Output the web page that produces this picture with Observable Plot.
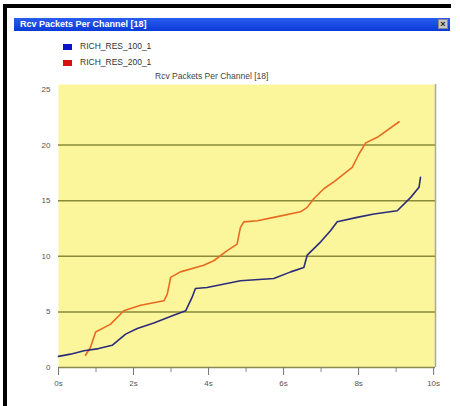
<!DOCTYPE html>
<html><head><meta charset="utf-8">
<script src="https://cdn.jsdelivr.net/npm/d3@7"></script>
<script src="https://cdn.jsdelivr.net/npm/@observablehq/plot@0.6"></script>
<style>
html,body{margin:0;padding:0;background:#fff;}
#root{position:relative;width:460px;height:406px;overflow:hidden;background:#fff;font-family:"Liberation Sans",Arial,sans-serif;}
#frame{position:absolute;left:3px;top:4px;width:444px;height:410px;border-top:4px solid #000;border-left:4px solid #000;}
#titlebar{position:absolute;left:14px;top:18px;width:436px;height:13px;background:linear-gradient(#2a5cf0,#0a3ad8);color:#fff;font-weight:bold;font-size:9px;line-height:13px;padding-left:6px;box-sizing:border-box;}
#close{position:absolute;right:2px;top:1px;width:10px;height:10px;background:#c8c8c8;border:1px solid #888;box-sizing:border-box;color:#222;font-size:9px;line-height:8px;text-align:center;font-weight:bold;}
.leg{position:absolute;left:63px;font-size:8.5px;color:#333;line-height:10px;}
.sw{display:inline-block;width:9px;height:6px;margin-right:8px;vertical-align:middle;}
#sub{position:absolute;left:155px;top:71px;font-size:8.5px;color:#444;}
#chart{position:absolute;left:0;top:80px;}
</style></head>
<body><div id="root">
<div id="frame"></div>
<div id="titlebar"><span id="ttl"></span><div id="close">×</div></div>
<div class="leg" style="top:41px"><span class="sw" style="background:#0a14c8"></span><span id="n0"></span></div>
<div class="leg" style="top:57px"><span class="sw" style="background:#d81010"></span><span id="n1"></span></div>
<div id="sub"></div>
<div id="chart"></div>
</div>
<script>
const titleText = "Rcv Packets Per Channel [18]";
const seriesNames = ["RICH_RES_100_1", "RICH_RES_200_1"];
const xTicks = [0, 2, 4, 6, 8, 10];
const xMinorTicks = [1, 3, 5, 7, 9];
const yGrid = [5, 10, 15, 20];
const yTicks = [0, 5, 10, 15, 20, 25];

const blueT = [0, 0.32, 0.68, 1.07, 1.43, 1.79, 2.1, 2.54, 3.07, 3.39, 3.56, 3.65, 3.96, 4.85, 5.74, 6.19, 6.54, 6.63, 6.99, 7.25, 7.43, 7.96, 8.41, 9.03, 9.39, 9.61, 9.65];
const blueV = [1.0, 1.2, 1.5, 1.7, 2.0, 3.0, 3.5, 4.0, 4.7, 5.1, 6.3, 7.1, 7.2, 7.8, 8.0, 8.6, 9.0, 10.1, 11.3, 12.3, 13.1, 13.5, 13.8, 14.1, 15.3, 16.2, 17.1];
const redT = [0.72, 0.85, 0.99, 1.39, 1.74, 2.19, 2.81, 2.9, 2.99, 3.25, 3.87, 4.14, 4.45, 4.76, 4.85, 4.94, 5.3, 5.74, 6.45, 6.63, 6.81, 7.08, 7.34, 7.83, 8.01, 8.19, 8.5, 9.08];
const redV = [1.1, 1.8, 3.2, 3.9, 5.1, 5.6, 6.0, 6.6, 8.1, 8.6, 9.2, 9.6, 10.4, 11.1, 12.6, 13.1, 13.2, 13.5, 14.0, 14.4, 15.2, 16.1, 16.7, 18.0, 19.2, 20.2, 20.7, 22.1];

document.getElementById("ttl").textContent = titleText;
document.getElementById("sub").textContent = titleText;
document.getElementById("n0").textContent = seriesNames[0];
document.getElementById("n1").textContent = seriesNames[1];

const blue = blueT.map((t, i) => ({t, v: blueV[i]}));
const red = redT.map((t, i) => ({t, v: redV[i]}));

const chart = Plot.plot({
  width: 460, height: 326,
  marginLeft: 58, marginRight: 25, marginTop: 4, marginBottom: 39,
  style: {background: "transparent", fontFamily: "Liberation Sans, Arial, sans-serif"},
  x: {domain: [0, 10.05]},
  y: {domain: [0, 25.45]},
  marks: [
    Plot.frame({fill: "#fbf59c", stroke: null}),
    Plot.ruleX([10.05], {stroke: "#a8a8a8", strokeWidth: 1.5}),
    Plot.ruleY(yGrid, {stroke: "#8a8a3a", strokeWidth: 1.5}),
    Plot.ruleY([0], {stroke: "#8a8a50", strokeWidth: 1.5}),
    Plot.tickX(xTicks, {x: d => d, y1: 0, y2: 0, stroke: "none"}),
    Plot.axisX(xTicks, {tickSize: 8, tickPadding: 5, tickFormat: d => d + "s", fontSize: 8, stroke: "#777", fill: "#555", label: null}),
    Plot.axisX(xMinorTicks, {tickSize: 5, tickFormat: () => "", stroke: "#888", label: null}),
    Plot.axisY(yTicks, {tickSize: 0, tickPadding: 8, fontSize: 8, fill: "#555", label: null}),
    Plot.line(red, {x: "t", y: "v", stroke: "#e86a20", strokeWidth: 1.6}),
    Plot.line(blue, {x: "t", y: "v", stroke: "#2c2c7a", strokeWidth: 1.6})
  ]
});
document.getElementById("chart").appendChild(chart);
</script>
</body></html>
